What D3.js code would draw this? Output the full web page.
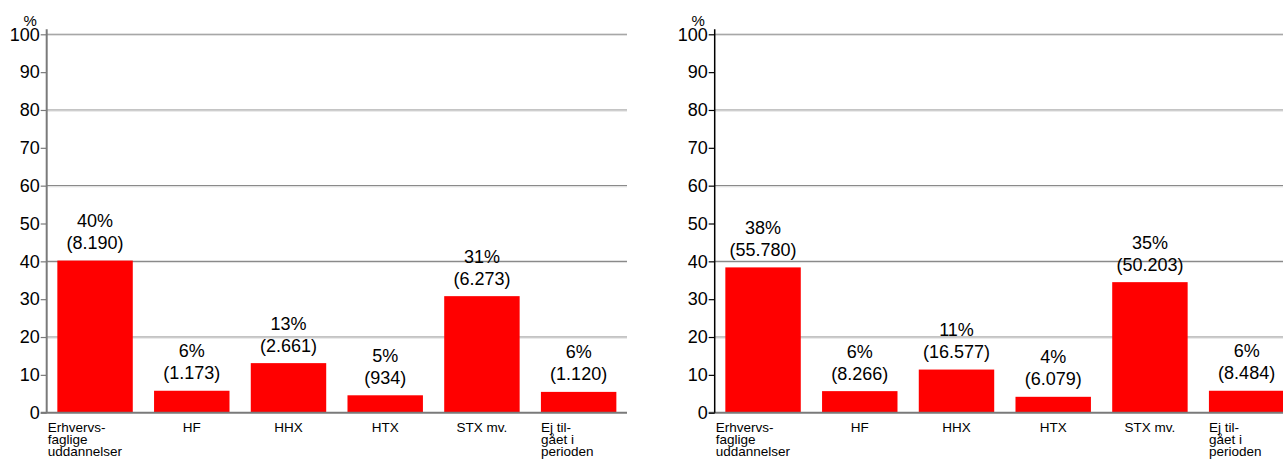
<!DOCTYPE html>
<html>
<head>
<meta charset="utf-8">
<script src="https://cdn.jsdelivr.net/npm/d3@7"></script>
<style>
  html, body { margin: 0; padding: 0; background: #fff; overflow: hidden; }
  svg { display: block; font-family: "Liberation Sans", Arial, sans-serif; }
</style>
</head>
<body>
<svg id="chart" width="1283" height="459"></svg>
<script>
// ---- data ----
const categories = ["Erhvervsfaglige uddannelser", "HF", "HHX", "HTX", "STX mv.", "Ej tilgået i perioden"];
const categoryLabelLines = [
  ["Erhvervs-", "faglige", "uddannelser"],
  ["HF"],
  ["HHX"],
  ["HTX"],
  ["STX mv."],
  ["Ej til-", "gået i", "perioden"]
];
const yTicks = [0, 10, 20, 30, 40, 50, 60, 70, 80, 90, 100];
const gridValues = [20, 40, 60, 80, 100];
const yUnitLabel = "%";

const leftPercent = [40.2, 5.8, 13.1, 4.6, 30.8, 5.5];
const leftPercentLabels = ["40%", "6%", "13%", "5%", "31%", "6%"];
const leftCountLabels = ["(8.190)", "(1.173)", "(2.661)", "(934)", "(6.273)", "(1.120)"];

const rightPercent = [38.4, 5.7, 11.4, 4.2, 34.5, 5.8];
const rightPercentLabels = ["38%", "6%", "11%", "4%", "35%", "6%"];
const rightCountLabels = ["(55.780)", "(8.266)", "(16.577)", "(6.079)", "(50.203)", "(8.484)"];

// ---- drawing ----
const svg = d3.select("#chart");
const y = d3.scaleLinear().domain([0, 100]).range([412.7, 34.3]);

function drawPanel(left, values, pctLabels, countLabels, axisColor, axisWidth) {
  const g = svg.append("g");
  const x = d3.scaleBand()
    .domain(categories)
    .range([left, left + 580.3])
    .paddingInner(0.22)
    .paddingOuter(0.11);

  // gridlines
  g.selectAll("line.grid").data(gridValues).join("line")
    .attr("class", "grid")
    .attr("x1", left).attr("x2", left + 580.3)
    .attr("y1", d => y(d)).attr("y2", d => y(d))
    .attr("stroke", "#8a8a8a").attr("stroke-width", 1.1);
  g.selectAll("line.gridshade").data(gridValues).join("line")
    .attr("class", "gridshade")
    .attr("x1", left).attr("x2", left + 580.3)
    .attr("y1", d => y(d) + 1.2).attr("y2", d => y(d) + 1.2)
    .attr("stroke", "#e2e2e2").attr("stroke-width", 1);

  // bars
  g.selectAll("rect.bar").data(values).join("rect")
    .attr("class", "bar")
    .attr("x", (d, i) => x(categories[i]))
    .attr("width", x.bandwidth())
    .attr("y", d => y(d))
    .attr("height", d => y(0) - y(d))
    .attr("fill", "#ff0000");

  // value labels
  const lab = g.selectAll("g.vlab").data(values).join("g").attr("class", "vlab");
  lab.append("text")
    .attr("x", (d, i) => x(categories[i]) + x.bandwidth() / 2)
    .attr("y", d => y(d) - 33.5)
    .attr("text-anchor", "middle")
    .attr("font-size", 18)
    .attr("fill", "#000")
    .text((d, i) => pctLabels[i]);
  lab.append("text")
    .attr("x", (d, i) => x(categories[i]) + x.bandwidth() / 2)
    .attr("y", d => y(d) - 11.5)
    .attr("text-anchor", "middle")
    .attr("font-size", 18)
    .attr("fill", "#000")
    .text((d, i) => countLabels[i]);

  // x axis baseline
  g.append("line")
    .attr("x1", left - 6).attr("x2", left + 580.3)
    .attr("y1", y(0)).attr("y2", y(0))
    .attr("stroke", "#7a7a7a").attr("stroke-width", 2);

  // y axis
  const ax = g.append("g")
    .attr("transform", `translate(${left},0)`)
    .call(d3.axisLeft(y).tickValues(yTicks).tickSize(6).tickPadding(1).tickFormat(d3.format("d")));
  ax.select(".domain").remove();
  ax.selectAll(".tick line").attr("stroke", axisColor).attr("stroke-width", 1.2);
  ax.selectAll(".tick text").attr("font-size", 18).attr("fill", "#000")
    .attr("font-family", "'Liberation Sans', Arial, sans-serif");
  g.append("line")
    .attr("x1", left).attr("x2", left)
    .attr("y1", y(100) - 5).attr("y2", y(0))
    .attr("stroke", axisColor).attr("stroke-width", axisWidth);

  // unit label
  g.append("text")
    .attr("x", left - 16.5)
    .attr("y", 26)
    .attr("text-anchor", "middle")
    .attr("font-size", 15)
    .attr("fill", "#000")
    .text(yUnitLabel);

  // category labels
  const first = categories[0];
  const cl = g.selectAll("text.cat").data(categories).join("text")
    .attr("class", "cat")
    .attr("font-size", 13.5)
    .attr("fill", "#000")
    .attr("text-anchor", (d, i) => categoryLabelLines[i].length > 1 ? "start" : "middle")
    .attr("transform", (d, i) => {
      let cx;
      if (categoryLabelLines[i].length > 1) {
        cx = d === first ? x(d) - x.step() * x.paddingInner() / 2 + 1 : x(d);
      } else {
        cx = x(d) + x.bandwidth() / 2;
      }
      return `translate(${cx},${y(0) + 19})`;
    });
  cl.selectAll("tspan").data((d, i) => categoryLabelLines[i]).join("tspan")
    .attr("x", 0)
    .attr("dy", (d, j) => j === 0 ? 0 : 12.4)
    .text(d => d);
}

drawPanel(46.7, leftPercent, leftPercentLabels, leftCountLabels, "#7a7a7a", 2);
drawPanel(714.7, rightPercent, rightPercentLabels, rightCountLabels, "#000", 1.5);
</script>
</body>
</html>
